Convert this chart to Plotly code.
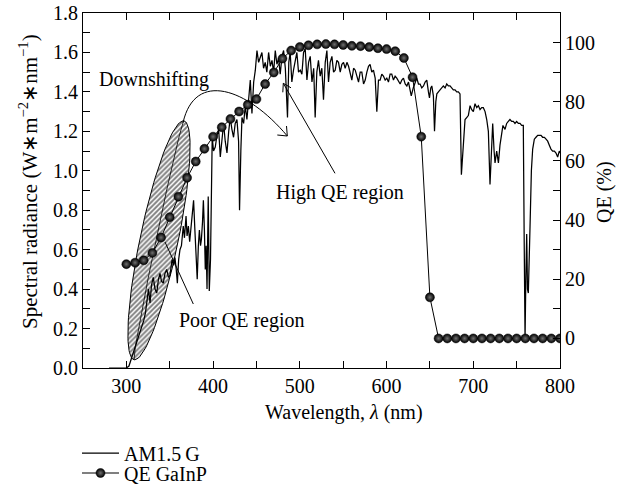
import numpy as np
import plotly.graph_objects as go

# ---------------- data ----------------
wl_am = [280, 290, 300, 303, 306, 309, 312, 315, 318, 320, 322, 324, 325.5, 327.3, 329, 331, 333, 335, 337, 338.8,
         340.5, 342.6, 344.5, 346.5, 348.5, 350.3, 352.7, 354.5, 356, 357.5, 358.8, 360.3, 361.8, 363.5, 365.6, 367,
         368.8, 370, 371.5, 373, 374.5, 376, 377.5, 379, 380.5, 381.7, 383, 384.2, 385.5, 386.5, 387.8, 388.8, 390,
         391, 392, 393, 394.4, 395.6, 397, 398.3, 399,
         400.5, 402.5, 404.5, 406.4, 408.3, 410.2, 412.1, 414, 416, 418, 419.8, 421.7, 423.6, 425.5, 427.5, 429.4,
         430.5, 432, 433.3, 435.2, 437.1, 439, 441, 442.9, 444.8, 446.8, 448.7, 450.6, 452.5, 454.4, 456.3, 458.2,
         460.1, 462, 464, 466, 467.9, 469.8, 471.7, 473.6, 475.5, 477.4, 479.4, 481.3, 483.3, 485.8, 487.3, 488.9,
         490.8, 492.7, 494.6, 496.6, 498.5, 500.5, 502.4, 504.3, 506.2, 508.2, 510.1, 512, 514, 516, 517.7, 519.6,
         521.5, 523.5, 525.4, 527.3, 529.3, 531.2, 533.1, 535, 537, 538.9, 540.8, 542.7, 544.6, 546.6, 548.5, 550.4,
         552.3, 554.3, 556.2, 558.1, 560, 562, 563.9, 565.8, 567.7, 569.6, 571.5, 573.5, 575.4, 577.3, 579.2, 581,
         583, 584.9, 586.9, 588.8, 590.7, 592.6, 594.5, 596.4, 598.4, 600.3, 602.2, 604.1, 606, 608, 609.9, 611.8,
         613.8, 615.7, 617.6, 619.5, 621.5, 623.4, 625.3, 627.2, 628.5, 630.8, 632.8, 634.9, 636.8, 638.7, 640.6,
         642.6, 644.5, 646.4, 648.3, 649.5, 651, 652.2, 654, 655.3, 656.8, 658, 659.8, 661.7, 663.6, 665.5, 667.5,
         669.4, 671.3, 673.2, 675.1, 677, 679, 680.9, 682.8, 684.7, 686.3, 688.6, 690.5, 692.4, 694.3, 696.3, 698.2,
         700.1, 702, 704, 705.9, 707.8, 709.7, 711.6, 713.6, 715.5, 717.4, 719.3, 720.6, 722.4, 724, 725.1, 727, 729,
         730.8, 732.5, 734.2, 736.6, 738.5, 740.4, 742.3, 744.3, 746.2, 748.1, 750, 752, 753.9, 755.8, 757.7, 758.8,
         759.7, 760.6, 761.6, 762.5, 763.5, 765.4, 767, 768.5, 770.4, 772.3, 774.3, 776.2, 778.1, 780, 782, 783.9,
         785.8, 787.7, 789.6, 791.5, 793.5, 795.4, 797.3, 799.2, 800]
am15 = [0.0, 0.0, 0.0, 0.01, 0.05, 0.09, 0.13, 0.17, 0.21, 0.24, 0.28, 0.34, 0.40, 0.33, 0.42, 0.46, 0.40, 0.38, 0.45, 0.48,
        0.44, 0.43, 0.48, 0.50, 0.46, 0.47, 0.55, 0.52, 0.56, 0.50, 0.43, 0.55, 0.60, 0.62, 0.72, 0.66,
        0.77, 0.67, 0.72, 0.64, 0.70, 0.78, 0.85, 0.70, 0.55, 0.45, 0.62, 0.70, 0.62, 0.65, 0.74, 0.85, 0.70,
        0.50, 0.62, 0.40, 0.87, 0.39, 0.55, 0.86, 1.17,
        1.10, 1.12, 1.18, 1.21, 1.07, 1.16, 1.24, 1.15, 1.09, 1.20, 1.27, 1.21, 1.17, 1.24, 1.26, 1.15,
        0.80, 1.10, 1.27, 1.24, 1.33, 1.26, 1.38, 1.46, 1.29, 1.45, 1.51, 1.61, 1.55, 1.58, 1.60, 1.52,
        1.55, 1.50, 1.60, 1.53, 1.56, 1.50, 1.61, 1.54, 1.57, 1.49, 1.58, 1.61, 1.52, 1.27, 1.55, 1.60,
        1.45, 1.51, 1.56, 1.60, 1.50, 1.51, 1.49, 1.60, 1.62, 1.46, 1.55, 1.58, 1.45, 1.52, 1.27, 1.50,
        1.56, 1.48, 1.52, 1.36, 1.55, 1.61, 1.45, 1.55, 1.58, 1.50, 1.51, 1.56, 1.55, 1.50, 1.54, 1.55,
        1.52, 1.55, 1.53, 1.49, 1.46, 1.52, 1.51, 1.48, 1.45, 1.50, 1.50, 1.44, 1.46, 1.50, 1.53, 1.54,
        1.50, 1.51, 1.47, 1.30, 1.46, 1.46, 1.49, 1.48, 1.46, 1.47, 1.45, 1.49, 1.49, 1.46, 1.48, 1.47,
        1.45, 1.44, 1.46, 1.47, 1.44, 1.43, 1.45, 1.40, 1.38, 1.42, 1.45, 1.47, 1.44, 1.44, 1.42,
        1.43, 1.45, 1.46, 1.40, 1.37, 1.42, 1.43, 1.38, 1.20, 1.35, 1.39, 1.40, 1.41, 1.42, 1.43, 1.42,
        1.44, 1.43, 1.43, 1.42, 1.41, 1.41, 1.40, 1.40, 1.39, 0.98, 1.12, 1.26, 1.27, 1.28, 1.33, 1.31,
        1.30, 1.34, 1.32, 1.33, 1.31, 1.32, 1.32, 1.30, 1.26, 1.20, 0.93, 1.10, 1.24, 1.10, 1.04, 1.10, 1.04,
        1.13, 1.18, 1.23, 1.21, 1.24, 1.25, 1.26, 1.25, 1.25, 1.24, 1.25, 1.24, 1.24, 1.23, 1.23, 0.60,
        0.15, 0.45, 0.68, 0.40, 0.38, 0.71, 1.00, 1.11, 1.16, 1.17, 1.18, 1.18, 1.18, 1.17, 1.17, 1.16,
        1.15, 1.13, 1.11, 1.10, 1.10, 1.09, 1.07, 1.10, 1.09]

wl_qe = [300, 310, 320, 330, 340, 350, 360, 370, 380, 390, 400, 410, 420, 430, 440, 450, 460, 470, 480, 490,
         500, 510, 520, 530, 540, 550, 560, 570, 580, 590, 600, 610, 620, 630, 640, 650,
         660, 670, 680, 690, 700, 710, 720, 730, 740, 750, 760, 770, 780, 790, 800]
qe_gainp = [25.1, 25.6, 26.4, 28.9, 34.1, 41.0, 47.9, 54.3, 59.8, 64.1, 68.2, 71.4, 74.2, 76.7, 79.0, 80.9,
            86.0, 89.9, 94.6, 97.3, 98.5, 99.1, 99.4, 99.5, 99.4, 99.2, 98.9, 98.8, 98.5, 98.1, 97.8, 97.1,
            94.8, 88.3, 68.2, 13.9, 0, 0, 0, 0, 0, 0, 0, 0, 0, 0, 0, 0, 0, 0, 0]

x_ticks = [300, 400, 500, 600, 700, 800]
FONT = "Liberation Serif"
FS = 20

# pixel -> data helpers for annotation geometry (plot: x 83..560 px, y 13..368 px)
def px2x(px):
    return 250 + (np.asarray(px) - 83) * 550 / 477.0

def px2y(py):
    return (368 - np.asarray(py)) * 1.8 / 355.0

fig = go.Figure()

# hatched ellipse (annotation) built in pixel space
t = np.linspace(0, 2 * np.pi, 121)
cxp, cyp = 159.0, 240.3
u = np.array([0.2044, -0.9789])
v = np.array([0.9789, 0.2044])
a_px, b_px = 122.0, 19.0
ex = cxp + a_px * np.cos(t) * u[0] + b_px * np.sin(t) * v[0]
ey = cyp + a_px * np.cos(t) * u[1] + b_px * np.sin(t) * v[1]
fig.add_trace(go.Scatter(
    x=px2x(ex), y=px2y(ey), mode="lines", fill="toself",
    line=dict(color="black", width=1), fillcolor="white",
    fillpattern=dict(shape="/", fgcolor="black", bgcolor="white", size=3.5, solidity=0.55),
    showlegend=False, hoverinfo="skip"))
ti = np.linspace(0, np.pi, 50)
ix = cxp + a_px * np.cos(ti) * u[0] - 3 * np.sin(ti) * v[0]
iy = cyp + a_px * np.cos(ti) * u[1] - 3 * np.sin(ti) * v[1]
fig.add_trace(go.Scatter(x=px2x(ix), y=px2y(iy), mode="lines", line=dict(color="black", width=0.8),
                         showlegend=False, hoverinfo="skip"))

fig.add_trace(go.Scatter(
    x=wl_am, y=am15, mode="lines", name="AM1.5\u2009G",
    line=dict(color="black", width=1.25), legend="legend"))

fig.add_trace(go.Scatter(
    x=wl_qe, y=qe_gainp, mode="lines+markers", name="QE GaInP", yaxis="y2",
    line=dict(color="black", width=1),
    marker=dict(size=9, color="black", line=dict(color="black", width=0.5),
                gradient=dict(type="radial", color="#707070")),
    legend="legend2"))

axis_common = dict(showline=True, linecolor="black", linewidth=1.2, ticks="inside", ticklen=7,
                   tickwidth=1.1, tickcolor="black", showgrid=False, zeroline=False, automargin=False,
                   tickfont=dict(family=FONT, size=FS, color="black"))

fig.update_layout(
    width=632, height=492,
    margin=dict(l=83, r=72, t=13, b=124, autoexpand=False),
    paper_bgcolor="white", plot_bgcolor="white",
    font=dict(family=FONT, size=FS, color="black"),
    xaxis=dict(range=[250, 800], tickvals=x_ticks, mirror="ticks",
               minor=dict(dtick=50, tick0=250, ticks="inside", ticklen=7, tickcolor="black"),
               **axis_common),
    yaxis=dict(range=[0, 1.8], dtick=0.2, tick0=0, tickformat=".1f",
               minor=dict(dtick=0.1, ticks="inside", ticklen=7, tickcolor="black"),
               **axis_common),
    yaxis2=dict(range=[-10, 110], dtick=20, tick0=0, overlaying="y", side="right",
                minor=dict(dtick=10, tick0=0, ticks="inside", ticklen=7, tickcolor="black"),
                **axis_common),
    legend=dict(xref="container", yref="container", x=77 / 632, y=1 - 453 / 492,
                xanchor="left", yanchor="middle", itemwidth=37,
                bgcolor="rgba(0,0,0,0)", font=dict(family=FONT, size=FS)),
    legend2=dict(xref="container", yref="container", x=77 / 632, y=1 - 473 / 492,
                 xanchor="left", yanchor="middle", itemwidth=37,
                 bgcolor="rgba(0,0,0,0)", font=dict(family=FONT, size=FS)),
)

# axis titles
fig.add_annotation(text="Wavelength, <i>λ</i> (nm)", xref="paper", yref="paper",
                   x=(344 - 83) / 477.0, y=(368 - 412) / 355.0, showarrow=False,
                   xanchor="center", yanchor="middle", font=dict(family=FONT, size=FS))
fig.add_annotation(text="Spectral radiance (W\u2217m<sup>\u22122</sup>\u2217nm<sup>\u22121</sup>)",
                   xref="paper", yref="paper", x=(28 - 83) / 477.0, y=(368 - 182) / 355.0,
                   textangle=-90, showarrow=False, xanchor="center", yanchor="middle",
                   font=dict(family=FONT, size=21))
fig.add_annotation(text="QE (%)", xref="paper", yref="paper", x=(604 - 83) / 477.0, y=(368 - 192) / 355.0,
                   textangle=-90, showarrow=False, xanchor="center", yanchor="middle",
                   font=dict(family=FONT, size=FS))

# in-plot labels
fig.add_annotation(text="Downshifting", x=float(px2x(97)), y=float(px2y(79)), xanchor="left", yanchor="middle",
                   showarrow=False, font=dict(family=FONT, size=FS))
fig.add_annotation(text="High QE region", x=float(px2x(340)), y=float(px2y(192)), xanchor="center",
                   yanchor="middle", showarrow=False, font=dict(family=FONT, size=FS))
fig.add_annotation(text="Poor QE region", x=float(px2x(242)), y=float(px2y(320)), xanchor="center",
                   yanchor="middle", showarrow=False, font=dict(family=FONT, size=FS))

def seg(p0, p1, w=1):
    fig.add_shape(type="line", xref="x", yref="y",
                  x0=float(px2x(p0[0])), y0=float(px2y(p0[1])), x1=float(px2x(p1[0])), y1=float(px2y(p1[1])),
                  line=dict(color="black", width=w))

# curved downshifting arrow
P0, C1, C2, P3 = (183, 122.7), (195, 70), (247, 88), (287.3, 136)
pts = [P0, C1, C2, P3]
path = "M {:.3f},{:.4f} C {:.3f},{:.4f} {:.3f},{:.4f} {:.3f},{:.4f}".format(
    *[val for p in pts for val in (float(px2x(p[0])), float(px2y(p[1])))])
fig.add_shape(type="path", path=path, xref="x", yref="y", line=dict(color="black", width=1))
seg(P3, (277.3, 135))
seg(P3, (286.5, 126))

# high QE arrow
tip = (283.3, 83.3)
seg((335, 173.3), tip)
seg(tip, (282.8, 92.3))
seg(tip, (291, 87.8))

# poor QE pointer
seg((193.3, 304), (165, 242))

fig.write_html("out.html", config={"displayModeBar": False},
               post_script="document.body.style.margin='0px';")
